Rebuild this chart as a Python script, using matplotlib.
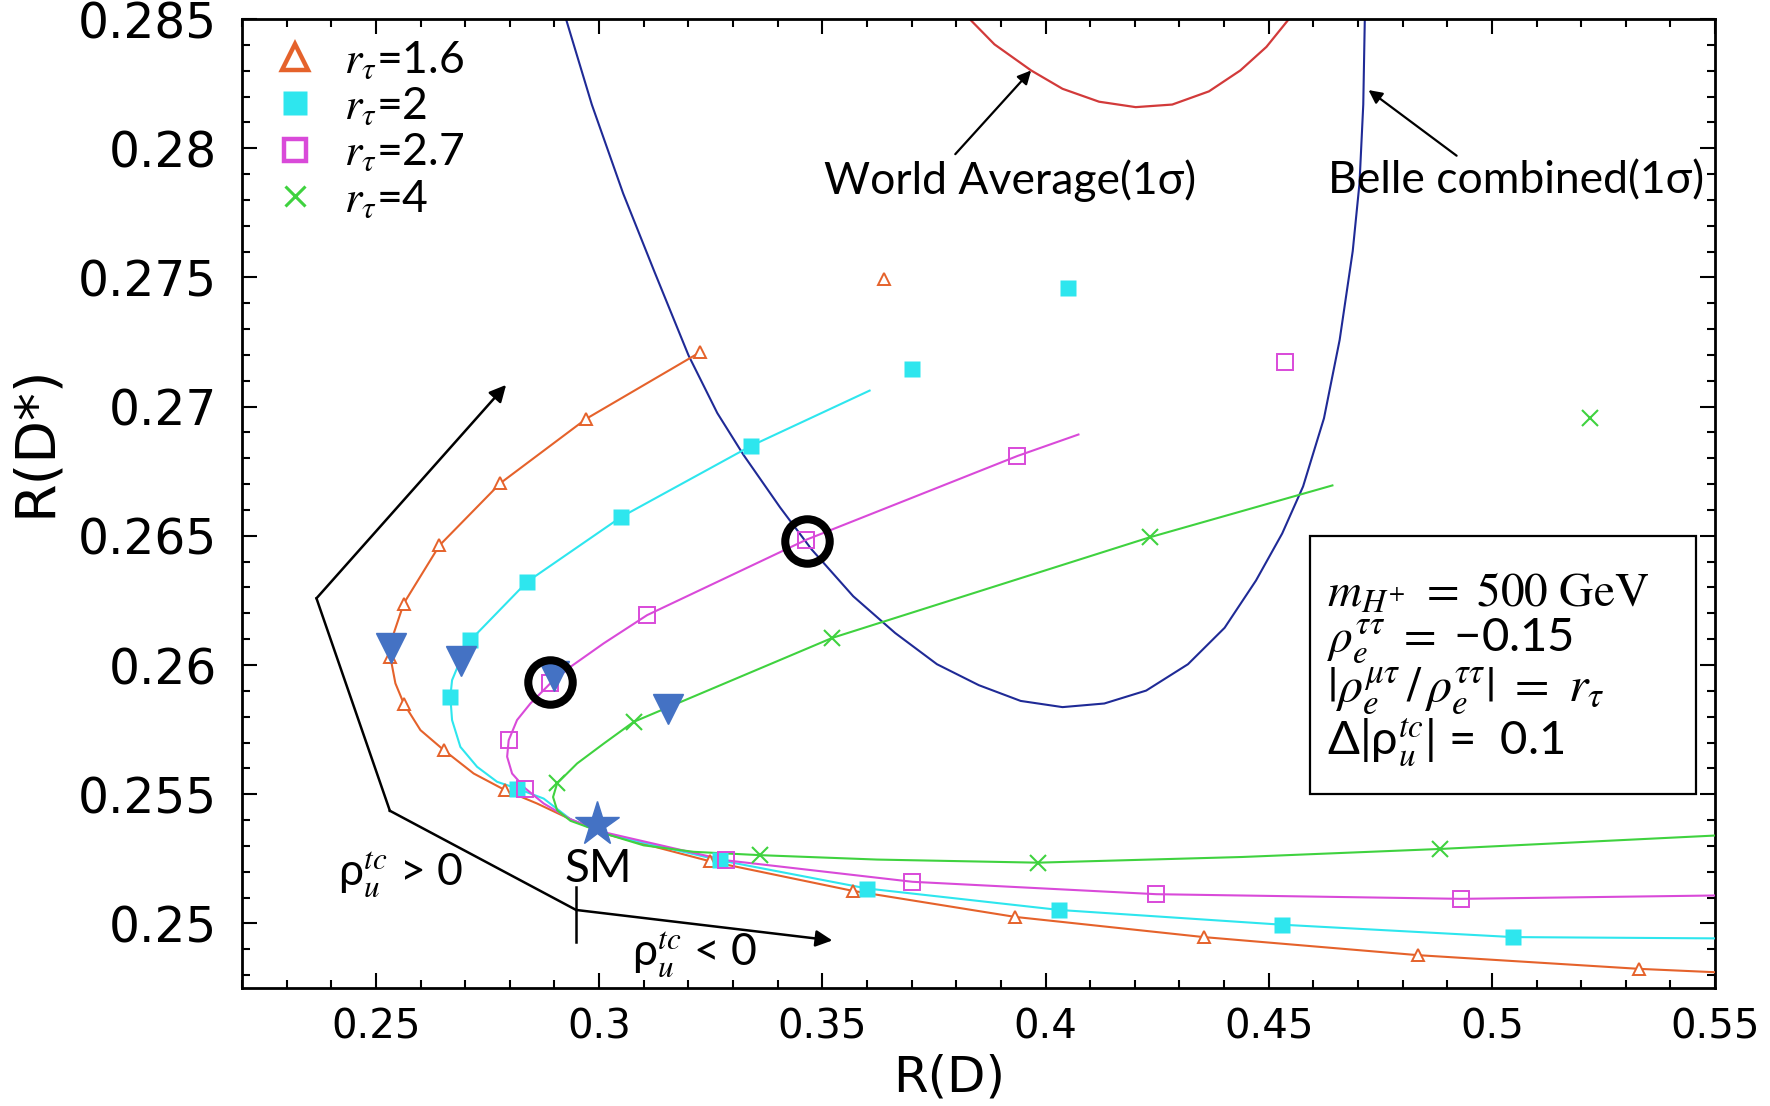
import matplotlib
matplotlib.use("Agg")
import matplotlib.pyplot as plt
from matplotlib.lines import Line2D
from matplotlib.patches import Rectangle
from matplotlib.ticker import MultipleLocator

plt.rcParams['mathtext.fontset'] = 'stix'
plt.rcParams['font.family'] = ['DejaVu Sans']

# ---------------- data ----------------
# r_tau = 1.6 (orange)
o_line_x = [0.32267, 0.29713, 0.27791, 0.26425, 0.25624, 0.25399, 0.25325, 0.25437, 0.25624, 0.25998,
            0.26519, 0.27191, 0.27902, 0.28610, 0.29359, 0.30105, 0.32494, 0.35680, 0.39322, 0.43544,
            0.48349, 0.53305, 0.55]
o_line_y = [0.27211, 0.26953, 0.26704, 0.26463, 0.26238, 0.26122, 0.26031, 0.25929, 0.25851, 0.25748,
            0.25671, 0.25580, 0.25515, 0.25464, 0.25403, 0.25348, 0.25240, 0.25126, 0.25025, 0.24947,
            0.24877, 0.24824, 0.24811]
o_mk_x = [0.36388, 0.32267, 0.29713, 0.27791, 0.26425, 0.25624, 0.25325, 0.25624, 0.26519, 0.27902,
          0.32494, 0.35680, 0.39322, 0.43544, 0.48349, 0.53305]
o_mk_y = [0.27495, 0.27211, 0.26953, 0.26704, 0.26463, 0.26238, 0.26031, 0.25851, 0.25671, 0.25515,
          0.25240, 0.25126, 0.25025, 0.24947, 0.24877, 0.24824]

# r_tau = 2 (cyan)
c_line_x = [0.36060, 0.33404, 0.30496, 0.28388, 0.27118, 0.26893, 0.26706, 0.26668, 0.26706, 0.26893,
            0.27267, 0.27715, 0.28162, 0.28759, 0.29359, 0.30105, 0.32717, 0.36004, 0.40308, 0.45289,
            0.50473, 0.55]
c_line_y = [0.27062, 0.26848, 0.26573, 0.26322, 0.26096, 0.26019, 0.25941, 0.25877, 0.25787, 0.25683,
            0.25606, 0.25548, 0.25522, 0.25483, 0.25403, 0.25348, 0.25244, 0.25135, 0.25052, 0.24995,
            0.24947, 0.24942]
c_mk_x = [0.40496, 0.37020, 0.33404, 0.30496, 0.28388, 0.27118, 0.26668, 0.28162, 0.32717, 0.36004,
          0.40308, 0.45289, 0.50473]
c_mk_y = [0.27460, 0.27145, 0.26848, 0.26573, 0.26322, 0.26096, 0.25877, 0.25522, 0.25244, 0.25135,
          0.25052, 0.24995, 0.24947]

# r_tau = 2.7 (magenta)
m_line_x = [0.40738, 0.39372, 0.34644, 0.31076, 0.30105, 0.29359, 0.28908, 0.28461, 0.28162, 0.27975,
            0.27940, 0.28051, 0.28350, 0.28759, 0.29359, 0.30105, 0.32848, 0.37020, 0.42482, 0.49310,
            0.55]
m_line_y = [0.26892, 0.26809, 0.26485, 0.26193, 0.26084, 0.25993, 0.25929, 0.25851, 0.25787, 0.25709,
            0.25645, 0.25580, 0.25522, 0.25464, 0.25403, 0.25353, 0.25244, 0.25161, 0.25113, 0.25095,
            0.25108]
m_mk_x = [0.45365, 0.39372, 0.34644, 0.31076, 0.28908, 0.27975, 0.28350, 0.32848, 0.37020, 0.42482, 0.49310]
m_mk_y = [0.27171, 0.26809, 0.26485, 0.26193, 0.25929, 0.25709, 0.25522, 0.25244, 0.25161, 0.25113, 0.25095]

# r_tau = 4 (green)
g_line_x = [0.46427, 0.42331, 0.35225, 0.30775, 0.30105, 0.29508, 0.29060, 0.28969, 0.29060, 0.29359,
            0.30254, 0.30999, 0.32120, 0.33614, 0.36229, 0.39827, 0.44404, 0.48830, 0.55]
g_line_y = [0.26695, 0.26494, 0.26105, 0.25780, 0.25696, 0.25619, 0.25542, 0.25489, 0.25438, 0.25397,
            0.25341, 0.25302, 0.25277, 0.25264, 0.25247, 0.25235, 0.25257, 0.25288, 0.25340]
g_mk_x = [0.52193, 0.42331, 0.35225, 0.30775, 0.29060, 0.33614, 0.39827, 0.48830]
g_mk_y = [0.26957, 0.26494, 0.26105, 0.25780, 0.25542, 0.25264, 0.25235, 0.25288]

# blue down-triangles, SM star, black circles
tri_x = [0.25340, 0.26908, 0.28984, 0.31536]
tri_y = [0.26064, 0.26016, 0.25957, 0.25830]
sm_x, sm_y = 0.29955, 0.25386
circ_x = [0.34664, 0.28908]
circ_y = [0.26479, 0.25936]

# Belle combined (1 sigma) contour
belle_x = [0.29250, 0.29837, 0.30539, 0.31242, 0.32004, 0.32648, 0.33235, 0.34054, 0.34757, 0.35693,
           0.36631, 0.37569, 0.38505, 0.39443, 0.40381, 0.41317, 0.42255, 0.43191, 0.44012, 0.44715,
           0.45302, 0.45770, 0.46238, 0.46589, 0.46882, 0.47034, 0.47118, 0.47153]
belle_y = [0.28505, 0.28169, 0.27825, 0.27521, 0.27198, 0.26975, 0.26813, 0.26610, 0.26448, 0.26266,
           0.26124, 0.26003, 0.25922, 0.25861, 0.25837, 0.25851, 0.25901, 0.26003, 0.26144, 0.26327,
           0.26509, 0.26691, 0.26955, 0.27258, 0.27602, 0.27865, 0.28169, 0.28505]

# World average (1 sigma) contour
wa_x = [0.38272, 0.38856, 0.39678, 0.40381, 0.41200, 0.42020, 0.42839, 0.43661, 0.44364, 0.44948, 0.45476]
wa_y = [0.28505, 0.28402, 0.28301, 0.28230, 0.28180, 0.28159, 0.28169, 0.28220, 0.28301, 0.28392, 0.28505]

# guide polyline for the sign of rho_u^tc
guide_up_x = [0.25313, 0.23669, 0.27917]
guide_up_y = [0.25436, 0.26258, 0.27084]
guide_mid_x = [0.29485, 0.25313]
guide_mid_y = [0.25052, 0.25436]
guide_dn_x = [0.29485, 0.35225]
guide_dn_y = [0.25052, 0.24934]

labels = [r'$r_\tau$=1.6', r'$r_\tau$=2', r'$r_\tau$=2.7', r'$r_\tau$=4']

# ---------------- colours ----------------
C_OR = '#E5622B'
C_CY = '#2EE6EE'
C_MA = '#D94AD9'
C_GR = '#3FD23F'
C_BE = '#1F2A96'
C_WA = '#D23A3A'
C_BL = '#4472C4'

fig = plt.figure(figsize=(17.7, 11.06), dpi=100)
ax = fig.add_axes([0.1367, 0.1067, 0.8323, 0.8761])

lw = 1.5
ax.plot(o_line_x, o_line_y, color=C_OR, lw=lw, zorder=3)
ax.plot(c_line_x, c_line_y, color=C_CY, lw=lw, zorder=3)
ax.plot(m_line_x, m_line_y, color=C_MA, lw=lw, zorder=3)
ax.plot(g_line_x, g_line_y, color=C_GR, lw=lw, zorder=3)

ax.plot(o_mk_x, o_mk_y, ls='none', marker='^', ms=9, mfc='white', mec=C_OR, mew=1.4, zorder=4)
ax.plot(c_mk_x, c_mk_y, ls='none', marker='s', ms=11, mfc=C_CY, mec='none', zorder=4)
ax.plot(m_mk_x, m_mk_y, ls='none', marker='s', ms=12, mfc='none', mec=C_MA, mew=1.4, zorder=4)
ax.plot(g_mk_x, g_mk_y, ls='none', marker='x', ms=12, mec=C_GR, mew=1.5, zorder=4)

ax.plot(belle_x, belle_y, color=C_BE, lw=1.5, zorder=2)
ax.plot(wa_x, wa_y, color=C_WA, lw=1.6, zorder=2)

ax.plot(tri_x, tri_y, ls='none', marker='v', ms=22, mfc=C_BL, mec=C_BL, zorder=5)
ax.plot([sm_x], [sm_y], ls='none', marker='*', ms=33, mfc=C_BL, mec=C_BL, zorder=5)
ax.plot(circ_x, circ_y, ls='none', marker='o', ms=32, mfc='none', mec='black', mew=5.8, zorder=6)

# guide lines with arrows
ax.plot(guide_mid_x, guide_mid_y, color='black', lw=1.8, zorder=3)
ax.annotate('', xy=(guide_up_x[2], guide_up_y[2]), xytext=(guide_up_x[1], guide_up_y[1]),
            arrowprops=dict(arrowstyle='-|>', color='black', lw=1.8, mutation_scale=25, shrinkA=0, shrinkB=0))
ax.plot(guide_up_x[:2], guide_up_y[:2], color='black', lw=1.8, zorder=3)
ax.annotate('', xy=(guide_dn_x[1], guide_dn_y[1]), xytext=(guide_dn_x[0], guide_dn_y[0]),
            arrowprops=dict(arrowstyle='-|>', color='black', lw=1.8, mutation_scale=25, shrinkA=0, shrinkB=0))
ax.plot([guide_dn_x[0], guide_dn_x[0]], [0.25139, 0.24929], color='black', lw=1.8, zorder=3)

fam = ['Lato', 'DejaVu Sans']
ax.text(0.25566, 0.25187, r'ρ$_u^{tc}$ > 0', fontsize=32, family=fam, ha='center', va='center')
ax.text(0.3214, 0.24881, r'ρ$_u^{tc}$ < 0', fontsize=32, family=fam, ha='center', va='center')
ax.text(0.29991, 0.25209, 'SM', fontsize=33, family=fam, ha='center', va='center')

ax.text(0.39208, 0.27876, 'World Average(1σ)', fontsize=32, family=fam, ha='center', va='center')
ax.text(0.50549, 0.27875, 'Belle combined(1σ)', fontsize=32, family=fam, ha='center', va='center')
ax.annotate('', xy=(0.39678, 0.28301), xytext=(0.37979, 0.27977),
            arrowprops=dict(arrowstyle='-|>', color='black', lw=1.6, mutation_scale=20, shrinkA=0, shrinkB=0))
ax.annotate('', xy=(0.47236, 0.28225), xytext=(0.49209, 0.27971),
            arrowprops=dict(arrowstyle='-|>', color='black', lw=1.6, mutation_scale=20, shrinkA=0, shrinkB=0))

# parameter box
ax.add_patch(Rectangle((0.7249, 0.2005), 0.2621, 0.2657, transform=ax.transAxes,
                       fill=False, lw=1.6, ec='black', zorder=7))
box_lines = [r'$m_{H^{+}}\ =\ \mathrm{500\ GeV}$', r'$\rho_e^{\tau\tau}\ =\ $−0.15',
             r'$|\rho_e^{\mu\tau}\,/\,\rho_e^{\tau\tau}|\ =\ r_\tau$', r'Δ|ρ${}_u^{tc}$| =  0.1']
box_size = [34, 34, 36, 34]
box_y = [0.4079, 0.3590, 0.3066, 0.2541]
for t, yy, fs in zip(box_lines, box_y, box_size):
    ax.text(0.7364, yy, t, transform=ax.transAxes, fontsize=fs, family=fam, ha='left', va='center', zorder=7)

# legend
handles = [Line2D([], [], ls='none', marker='^', ms=19, mfc='white', mec=C_OR, mew=3.2),
           Line2D([], [], ls='none', marker='s', ms=17, mfc=C_CY, mec='none'),
           Line2D([], [], ls='none', marker='s', ms=16, mfc='white', mec=C_MA, mew=3.2),
           Line2D([], [], ls='none', marker='x', ms=15, mec=C_GR, mew=2.2)]
leg = ax.legend(handles, labels, loc='upper left', bbox_to_anchor=(0.0, 1.012), frameon=False,
                prop={'family': fam, 'size': 32}, handlelength=1.0, handletextpad=0.6,
                labelspacing=0.1, borderaxespad=0.3)

ax.set_xlim(0.22, 0.55)
ax.set_ylim(0.2475, 0.285)
ax.xaxis.set_minor_locator(MultipleLocator(0.01))
ax.yaxis.set_minor_locator(MultipleLocator(0.001))
ax.set_xticks([0.25, 0.3, 0.35, 0.4, 0.45, 0.5, 0.55])
ax.set_xticklabels(['0.25', '0.3', '0.35', '0.4', '0.45', '0.5', '0.55'])
ax.set_yticks([0.25, 0.255, 0.26, 0.265, 0.27, 0.275, 0.28, 0.285])
ax.set_yticklabels(['0.25', '0.255', '0.26', '0.265', '0.27', '0.275', '0.28', '0.285'])
ax.tick_params(which='both', direction='in', top=True, right=True, width=1.5)
ax.tick_params(which='major', length=11)
ax.tick_params(which='minor', length=6)
ax.tick_params(axis='y', labelsize=35, pad=18)
ax.tick_params(axis='x', labelsize=29, pad=14)
for s in ax.spines.values():
    s.set_linewidth(2)

ax.set_xlabel('R(D)', fontsize=36)
ax.set_ylabel('R(D*)', fontsize=40)
ax.xaxis.set_label_coords(0.48, -0.068)
ax.yaxis.set_label_coords(-0.122, 0.565)

fig.savefig('out.png', dpi=100)
